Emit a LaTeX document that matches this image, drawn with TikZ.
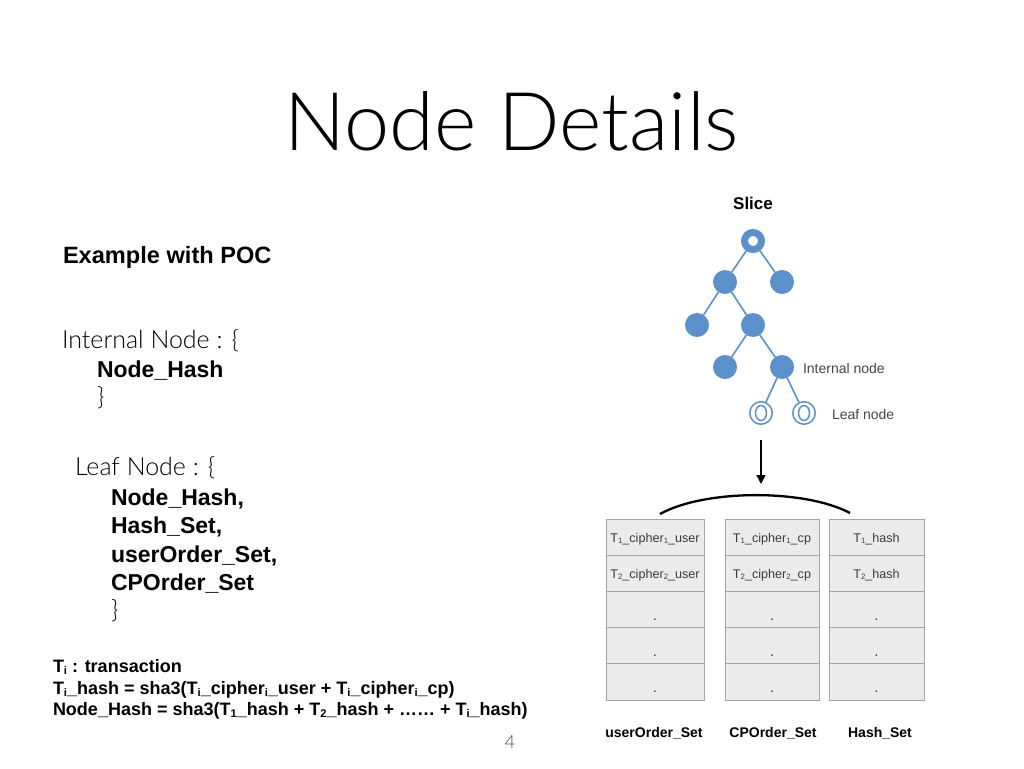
\documentclass[tikz,border=0pt]{standalone}
\usepackage{fontspec}
\setmainfont{Liberation Sans}
\newfontfamily\lightfont{Lato Light}
\usetikzlibrary{arrows.meta}
\definecolor{treeblue}{RGB}{92,144,202}
\definecolor{cellfill}{RGB}{235,235,235}
\definecolor{cellline}{RGB}{165,165,165}
\definecolor{celltext}{RGB}{60,60,60}
\definecolor{labeltext}{RGB}{70,70,70}
\newcommand\fs[1]{\fontsize{#1}{#1}\selectfont}
\newcommand\sbs[1]{\raisebox{-0.12em}{\scalebox{0.62}{#1}}}
\begin{document}
\begin{tikzpicture}[x=1pt,y=-1pt,
  every node/.style={inner sep=0pt,outer sep=0pt},
  txt/.style={anchor=base west,align=left},
  inode/.style={circle,fill=treeblue,minimum size=24pt},
  rootnode/.style={circle,draw=treeblue,fill=white,line width=7pt,minimum size=17pt,outer sep=3.5pt},
  leafnode/.style={circle,draw=treeblue,line width=1.5pt,minimum size=22.5pt,outer sep=0.75pt,
    path picture={\draw[treeblue,line width=1.5pt] (path picture bounding box.center) ellipse (5.5pt and 7.5pt);}},
  tedge/.style={draw=treeblue,line width=1.6pt},
  cell/.style={rectangle,draw=cellline,fill=cellfill,line width=1pt,minimum height=36.2pt,
    text=celltext,font=\fs{12.6},text height=10pt,text depth=0pt},
  dotcell/.style={cell,font=\fs{15},text height=21pt},
  setlabel/.style={anchor=base,font=\bfseries\fs{14}}]
\useasboundingbox (0,0) rectangle (1024,768);

% title
\node[anchor=base] (title) at (512,150) {\lightfont\fs{81}Node Details};

% left column: node structure description
\node[txt] (poc) at (63,263) {\bfseries\fs{23.6}Example with POC};
\node[txt] (int) at (62,348) {\lightfont\fs{25}Internal Node : \{};
\node[txt] (intf) at (97,377) {\bfseries\fs{23}Node\_Hash};
\node[txt] (intc) at (97,405) {\lightfont\fs{25}\}};
\node[txt] (leaf) at (75,475) {\lightfont\fs{25}Leaf Node : \{};
\node[txt] (lf1) at (111,505) {\bfseries\fs{23}Node\_Hash,};
\node[txt] (lf2) at (111,533) {\bfseries\fs{23}Hash\_Set,};
\node[txt] (lf3) at (111,562) {\bfseries\fs{23}userOrder\_Set,};
\node[txt] (lf4) at (111,590) {\bfseries\fs{23}CPOrder\_Set};
\node[txt] (lfc) at (111,618) {\lightfont\fs{25}\}};

% definitions
\node[txt] (d1) at (53,672) {\bfseries\fs{18}T\sbs{i} : transaction};
\node[txt] (d2) at (53,694) {\bfseries\fs{18}T\sbs{i}\_hash = sha3(T\sbs{i}\_cipher\sbs{i}\_user + T\sbs{i}\_cipher\sbs{i}\_cp)};
\node[txt] (d3) at (53,715) {\bfseries\fs{18}Node\_Hash = sha3(T\sbs{1}\_hash + T\sbs{2}\_hash + …… + T\sbs{i}\_hash)};

% page number
\node[anchor=base,text=labeltext] (page) at (510,748) {\lightfont\fs{18}4};

% slice tree
\node[anchor=base] (slice) at (753,209) {\bfseries\fs{17}Slice};
\node[rootnode] (r) at (753,241) {};
\node[inode] (a) at (725,282) {};
\node[inode] (b) at (782,282) {};
\node[inode] (c) at (697,325) {};
\node[inode] (d) at (753,325) {};
\node[inode] (e) at (725,367) {};
\node[inode] (f) at (782,367) {};
\node[leafnode] (g) at (761,413) {};
\node[leafnode] (h) at (804,413) {};
\draw[tedge] (r) -- (a);
\draw[tedge] (r) -- (b);
\draw[tedge] (a) -- (c);
\draw[tedge] (a) -- (d);
\draw[tedge] (d) -- (e);
\draw[tedge] (d) -- (f);
\draw[tedge] (f) -- (g);
\draw[tedge] (f) -- (h);
\node[txt,text=labeltext] (intlab) at (803,373) {\fs{14}Internal node};
\node[txt,text=labeltext] (leaflab) at (832,419) {\fs{14}Leaf node};

% arrow down to the sets
\coordinate (arrS) at (761,440);
\coordinate (arrE) at (761,484);
\draw[line width=1.6pt,-{Triangle[length=9pt,width=9pt]}] (arrS) -- (arrE);

% grouping arc over the sets
\coordinate (arcL) at (660,514);
\coordinate (arcR) at (850,513);
\draw[line width=2.3pt] (arcL) .. controls (705,489) and (805,489) .. (arcR);

% userOrder_Set
\node[cell,minimum width=98pt] (u1) at (655,537.1) {T\sbs{1}\_cipher\sbs{1}\_user};
\node[cell,minimum width=98pt] (u2) at (655,573.3) {T\sbs{2}\_cipher\sbs{2}\_user};
\node[dotcell,minimum width=98pt] (u3) at (655,609.5) {.};
\node[dotcell,minimum width=98pt] (u4) at (655,645.7) {.};
\node[dotcell,minimum width=98pt] (u5) at (655,681.9) {.};
% CPOrder_Set
\node[cell,minimum width=94pt] (p1) at (772,537.1) {T\sbs{1}\_cipher\sbs{1}\_cp};
\node[cell,minimum width=94pt] (p2) at (772,573.3) {T\sbs{2}\_cipher\sbs{2}\_cp};
\node[dotcell,minimum width=94pt] (p3) at (772,609.5) {.};
\node[dotcell,minimum width=94pt] (p4) at (772,645.7) {.};
\node[dotcell,minimum width=94pt] (p5) at (772,681.9) {.};
% Hash_Set
\node[cell,minimum width=95pt] (s1) at (876.5,537.1) {T\sbs{1}\_hash};
\node[cell,minimum width=95pt] (s2) at (876.5,573.3) {T\sbs{2}\_hash};
\node[dotcell,minimum width=95pt] (s3) at (876.5,609.5) {.};
\node[dotcell,minimum width=95pt] (s4) at (876.5,645.7) {.};
\node[dotcell,minimum width=95pt] (s5) at (876.5,681.9) {.};

\node[setlabel] (ul) at (654,737) {userOrder\_Set};
\node[setlabel] (pl) at (773,737) {CPOrder\_Set};
\node[setlabel] (sl) at (880,737) {Hash\_Set};
\end{tikzpicture}
\end{document}
